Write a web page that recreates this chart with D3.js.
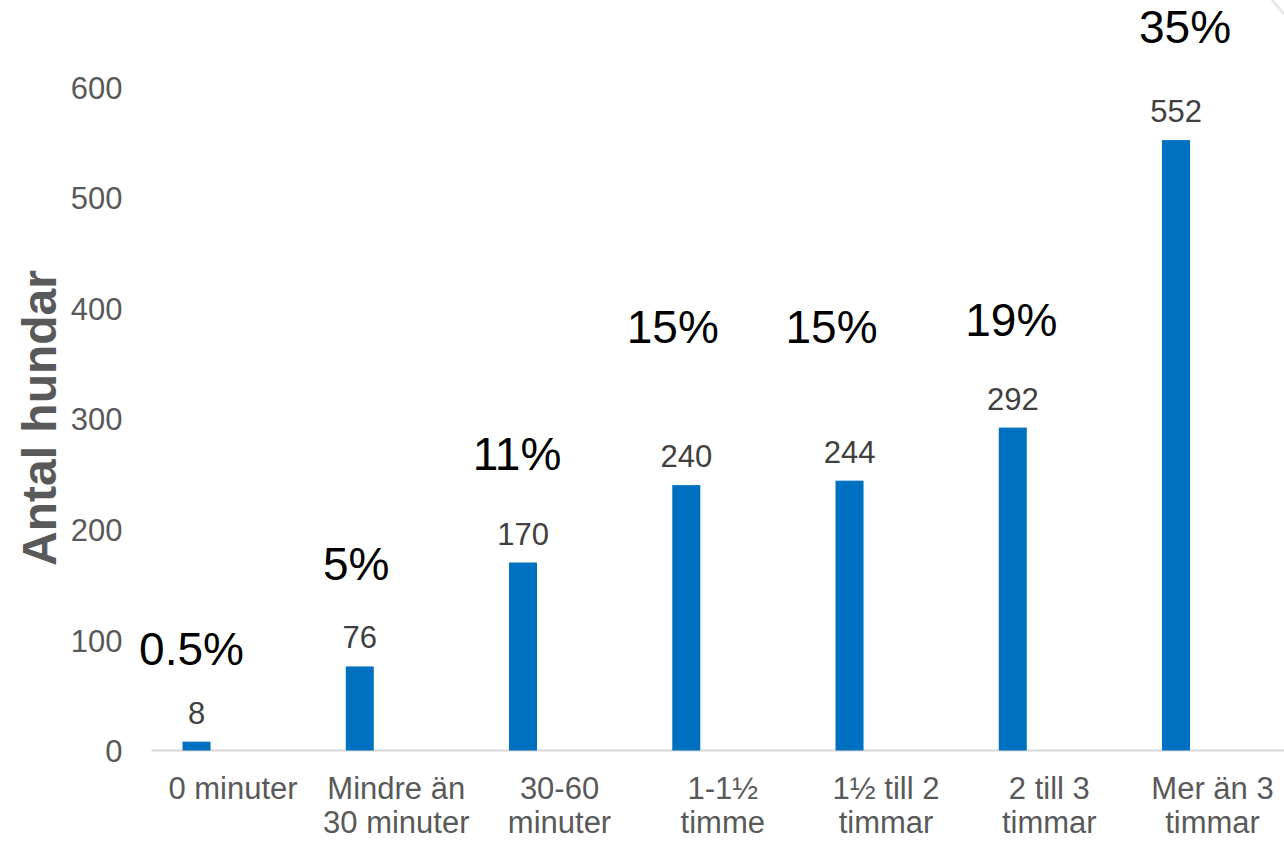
<!DOCTYPE html>
<html>
<head>
<meta charset="utf-8">
<script src="https://cdn.jsdelivr.net/npm/d3@7"></script>
<style>
  html, body { margin: 0; padding: 0; background: #fff; }
  svg { display: block; font-family: "Liberation Sans", Arial, sans-serif; }
</style>
</head>
<body>
<svg id="chart" width="1284" height="842"></svg>
<script>
// Dogs per daily time spent alone
const categories = [
  "0 minuter",
  "Mindre än\n30 minuter",
  "30-60\nminuter",
  "1-1½\ntimme",
  "1½ till 2\ntimmar",
  "2 till 3\ntimmar",
  "Mer än 3\ntimmar"
];
const dogCounts = [8, 76, 170, 240, 244, 292, 552];
const shareLabels = ["0.5%", "5%", "11%", "15%", "15%", "19%", "35%"];
const yTicks = [0, 100, 200, 300, 400, 500, 600];
const series = ["antal", "reserv"];

// Hand-placed share labels: offset from category centre / bar top
const shareNudge = [
  [-41.5, -77], [-40, -86], [-42.5, -93], [-50, -142],
  [-54.5, -138], [-38, -92], [-27.5, -97]
];

const svg = d3.select("#chart");

const x = d3.scaleBand()
  .domain(categories)
  .range([151.4, 151.4 + 163.25 * categories.length])
  .paddingInner(0).paddingOuter(0);

const bw = x.bandwidth();
const xs = d3.scaleBand()
  .domain(series)
  .range([bw / 2 - 50.5, bw / 2 + 49.5])
  .paddingInner(0.611).paddingOuter(0);

const y = d3.scaleLinear().domain([0, 600]).range([750.5, 87]);

// baseline
svg.append("line")
  .attr("x1", x.range()[0]).attr("x2", x.range()[1])
  .attr("y1", y(0)).attr("y2", y(0))
  .attr("stroke", "#d9d9d9").attr("stroke-width", 2);

// y axis
const yAxis = svg.append("g")
  .attr("transform", `translate(${x.range()[0]},0)`)
  .call(d3.axisLeft(y).tickValues(yTicks).tickSize(0).tickPadding(29));
yAxis.select(".domain").remove();
yAxis.selectAll("text")
  .attr("font-size", 31)
  .attr("fill", "#595959")
  .attr("font-family", "'Liberation Sans', Arial, sans-serif")
  .attr("dy", "0.36em");

// y title
svg.append("text")
  .attr("transform", `translate(56,418) rotate(-90)`)
  .attr("text-anchor", "middle")
  .attr("font-size", 48)
  .attr("font-weight", "bold")
  .attr("fill", "#595959")
  .text("Antal hundar");

// bars
const bars = svg.append("g");
bars.selectAll("rect")
  .data(dogCounts)
  .join("rect")
  .attr("x", (d, i) => x(categories[i]) + xs("antal"))
  .attr("width", xs.bandwidth())
  .attr("y", d => y(d))
  .attr("height", d => y(0) - y(d))
  .attr("fill", "#0070c0");

// value labels
svg.append("g").selectAll("text")
  .data(dogCounts)
  .join("text")
  .attr("x", (d, i) => x(categories[i]) + xs("antal") + xs.bandwidth() / 2)
  .attr("y", d => y(d) - 18)
  .attr("text-anchor", "middle")
  .attr("font-size", 31)
  .attr("fill", "#404040")
  .text(d => d);

// share labels
svg.append("g").selectAll("text")
  .data(shareLabels)
  .join("text")
  .attr("x", (d, i) => x(categories[i]) + bw / 2 + shareNudge[i][0])
  .attr("y", (d, i) => y(dogCounts[i]) + shareNudge[i][1])
  .attr("text-anchor", "middle")
  .attr("font-size", 46)
  .attr("fill", "#000")
  .text(d => d);

// category labels
const cat = svg.append("g").selectAll("text")
  .data(categories)
  .join("text")
  .attr("x", d => x(d) + bw / 2)
  .attr("y", 799)
  .attr("text-anchor", "middle")
  .attr("font-size", 31)
  .attr("fill", "#595959");
cat.each(function(d) {
  const t = d3.select(this);
  d.split("\n").forEach((line, k) => {
    t.append("tspan")
      .attr("x", x(d) + bw / 2)
      .attr("dy", k === 0 ? 0 : 34)
      .text(line);
  });
});

// faint corner edge
svg.append("line")
  .attr("x1", 1272).attr("y1", 0).attr("x2", 1284).attr("y2", 14)
  .attr("stroke", "#e8e8e8").attr("stroke-width", 3);
</script>
</body>
</html>
